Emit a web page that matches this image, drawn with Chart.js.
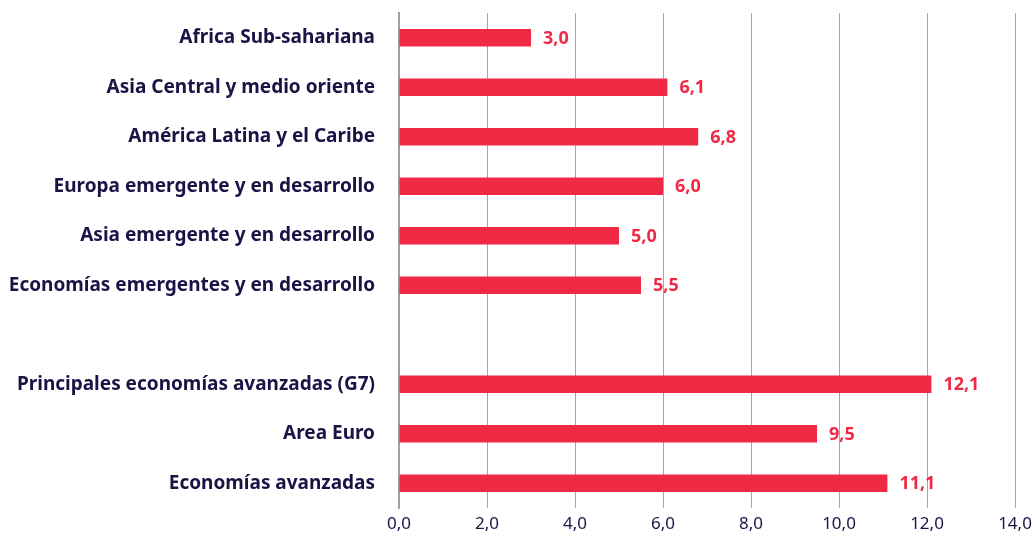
<!DOCTYPE html>
<html>
<head>
<meta charset="utf-8">
<script src="https://cdn.jsdelivr.net/npm/chart.js@4"></script>
<style>
  html, body { margin: 0; padding: 0; background: #fff; }
  #wrap { width: 1032px; height: 536px; }
</style>
</head>
<body>
<div id="wrap"><canvas id="chart"></canvas></div>
<script>
  // categorías (hueco vacío entre los dos grupos)
  const categories = [
    'Africa Sub-sahariana',
    'Asia Central y medio oriente',
    'América Latina y el Caribe',
    'Europa emergente y en desarrollo',
    'Asia emergente y en desarrollo',
    'Economías emergentes y en desarrollo',
    '',
    'Principales economías avanzadas (G7)',
    'Area Euro',
    'Economías avanzadas'
  ];
  const values = [3.0, 6.1, 6.8, 6.0, 5.0, 5.5, null, 12.1, 9.5, 11.1];
  const xTicks = [0, 2, 4, 6, 8, 10, 12, 14];

  const navy = '#1a1446';
  const red = '#f02a45';
  const font = 'Noto Sans';
  const fmt = v => v.toFixed(1).replace('.', ',');

  // etiquetas de valor al final de cada barra
  const valueLabels = {
    id: 'valueLabels',
    afterDatasetsDraw(chart) {
      const ctx = chart.ctx;
      const meta = chart.getDatasetMeta(0);
      ctx.save();
      ctx.font = 'bold 18px "' + font + '"';
      ctx.fillStyle = red;
      ctx.textBaseline = 'middle';
      meta.data.forEach((bar, i) => {
        if (values[i] == null) return;
        ctx.fillText(fmt(values[i]), bar.x + 12, bar.y + 1);
      });
      ctx.restore();
    }
  };

  function draw() {
    new Chart(document.getElementById('chart'), {
      type: 'bar',
      data: {
        labels: categories,
        datasets: [{
          data: values,
          backgroundColor: red,
          barPercentage: 0.7,
          categoryPercentage: 0.5
        }]
      },
      options: {
        indexAxis: 'y',
        responsive: true,
        maintainAspectRatio: false,
        animation: false,
        layout: { padding: { top: 13, right: 0, left: 0, bottom: 0 } },
        plugins: { legend: { display: false }, tooltip: { enabled: false } },
        scales: {
          x: {
            min: 0,
            max: 14,
            afterBuildTicks: s => { s.ticks = xTicks.map(v => ({ value: v })); },
            afterFit: s => { s.height = 28; s.paddingRight = 17; },
            grid: { color: '#a6a6a6', lineWidth: 1, drawTicks: false },
            border: { display: false },
            ticks: {
              color: navy,
              padding: 6,
              font: { family: font, size: 17 },
              callback: v => fmt(v)
            }
          },
          y: {
            afterFit: s => { s.width = 399; s.paddingTop = 0; s.paddingBottom = 0; },
            grid: { display: false },
            border: { display: true, color: '#a0a0a0', width: 2 },
            ticks: {
              color: navy,
              padding: 16,
              autoSkip: false,
              font: { family: font, size: 19, weight: 'bold' }
            }
          }
        }
      },
      plugins: [valueLabels]
    });
  }

  Promise.all([
    document.fonts.load('bold 19px "' + font + '"'),
    document.fonts.load('17px "' + font + '"')
  ]).then(draw, draw);
</script>
</body>
</html>
